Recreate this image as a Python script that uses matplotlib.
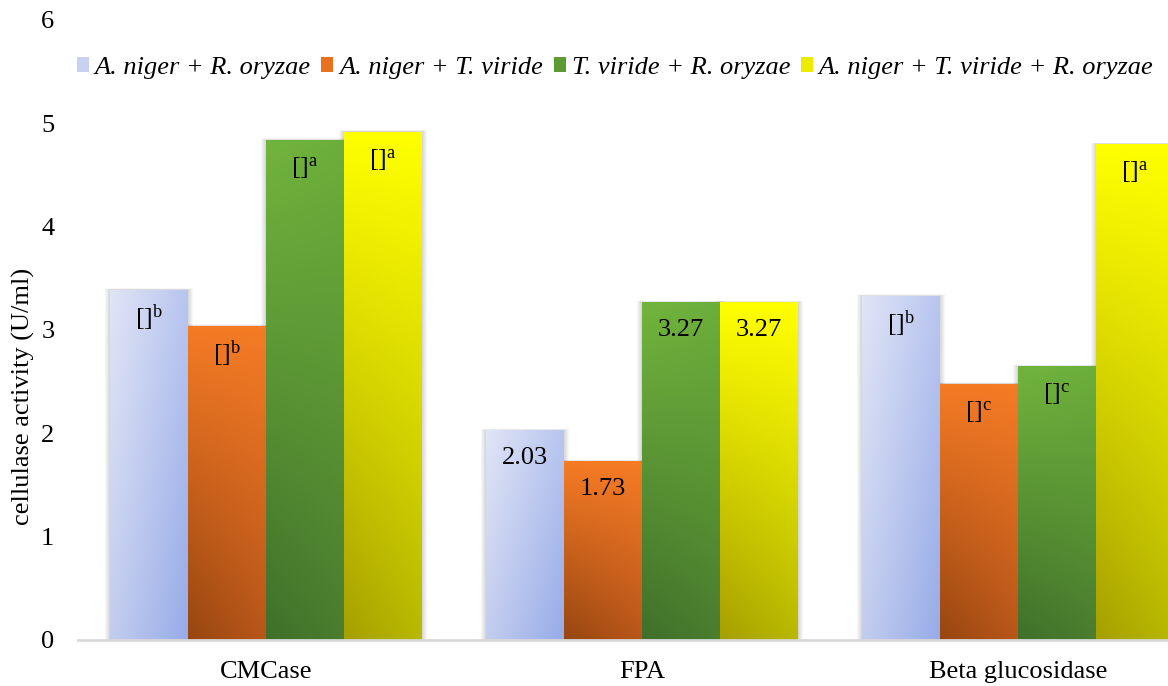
import numpy as np
import matplotlib
matplotlib.use("Agg")
import matplotlib.pyplot as plt
from matplotlib.patches import Rectangle, Patch
from matplotlib.colors import to_rgb

plt.rcParams['font.family'] = ['Liberation Serif', 'DejaVu Serif']
plt.rcParams['mathtext.fontset'] = 'custom'
plt.rcParams['mathtext.rm'] = 'Liberation Serif'
plt.rcParams['mathtext.it'] = 'Liberation Serif:italic'

# Enzyme assays and fungal consortia
categories = ["CMCase", "FPA", "Beta glucosidase"]
series_names = [
    "A. niger + R. oryzae",
    "A. niger + T. viride",
    "T. viride + R. oryzae",
    "A. niger + T. viride + R. oryzae",
]
values = [
    [3.39, 3.04, 4.84, 4.92],   # CMCase
    [2.03, 1.73, 3.27, 3.27],   # FPA
    [3.33, 2.48, 2.65, 4.80],   # Beta glucosidase
]
# Significance letters; None means the numeric value is printed instead
letters = [
    ["b", "b", "a", "a"],
    [None, None, None, None],
    ["b", "c", "c", "a"],
]
y_ticks = [0, 1, 2, 3, 4, 5, 6]

# Gradient corners per series: (top-left, top-right, bottom-left, bottom-right)
gradients = [
    ("#dfe4f6", "#b9c6ef", "#c2ccef", "#98ace8"),
    ("#f57b25", "#f57b25", "#984611", "#b8561a"),
    ("#71b43d", "#6cae3b", "#40702a", "#4a7d2e"),
    ("#ffff00", "#ffff00", "#a6a000", "#b8b800"),
]
legend_colors = ["#c8d1f1", "#e8701f", "#5c9a33", "#ecec00"]

FS = 19
W, H, DPI = 1168, 686, 100
fig = plt.figure(figsize=(W / DPI, H / DPI), dpi=DPI)
ax_left, ax_right, ax_bottom, ax_top = 78, 1206, 640, 20
ax = fig.add_axes([ax_left / W, 1 - ax_bottom / H,
                   (ax_right - ax_left) / W, (ax_bottom - ax_top) / H])

n_series = len(series_names)
bar_w = 0.2074
x = np.arange(len(categories))
px_x = len(categories) / (ax_right - ax_left)      # data units per pixel
px_y = (y_ticks[-1] - y_ticks[0]) / (ax_bottom - ax_top)


def gradient_image(corners, ny=64, nx=16):
    tl, tr, bl, br = [np.array(to_rgb(c)) for c in corners]
    v = np.linspace(0, 1, ny)[:, None, None]
    h = np.linspace(0, 1, nx)[None, :, None]
    top = tl * (1 - h) + tr * h
    bot = bl * (1 - h) + br * h
    return top * (1 - v) + bot * v


for s in range(n_series):
    offs = (s - (n_series - 1) / 2) * bar_w
    heights = [values[c][s] for c in range(len(categories))]
    bars = ax.bar(x + offs, heights, width=bar_w, color="none",
                  edgecolor="none", zorder=3)
    for c, bar in enumerate(bars):
        x0, w, hgt = bar.get_x(), bar.get_width(), bar.get_height()
        # soft drop shadow, mostly on the sides
        for k in range(1, 6):
            ax.add_patch(Rectangle((x0 - k * px_x, 0), w + 2 * k * px_x,
                                   hgt + k * px_y * 0.3,
                                   facecolor="black", alpha=0.03,
                                   edgecolor="none", zorder=2))
        img = ax.imshow(gradient_image(gradients[s]),
                        extent=(x0, x0 + w, 0, hgt), aspect="auto",
                        origin="upper", zorder=3, interpolation="bilinear")
        img.set_clip_path(bar)
        # inside-end label
        lab = letters[c][s]
        if lab is None:
            txt = f"{values[c][s]:.2f}"
        else:
            txt = "[]$^{\\mathrm{" + lab + "}}$"
        ax.text(x0 + w / 2, hgt - 28 * px_y, txt, ha="center", va="center",
                fontsize=FS, color="black", zorder=5)

ax.set_xlim(-0.5, len(categories) - 0.5)
ax.set_ylim(y_ticks[0], y_ticks[-1])

ax.set_xticks(x)
ax.set_xticklabels(categories, fontsize=FS)
ax.set_yticks(y_ticks)
ax.set_yticklabels([str(t) for t in y_ticks], fontsize=FS)
ax.tick_params(axis="both", length=0)
ax.tick_params(axis="x", pad=15)
ax.tick_params(axis="y", pad=17)
for side in ("top", "right", "left"):
    ax.spines[side].set_visible(False)
ax.spines["bottom"].set_color("#d9d9d9")
ax.spines["bottom"].set_linewidth(2)
ax.spines["bottom"].set_zorder(4)

fig.text(23 / W, 1 - 396 / H, "cellulase activity (U/ml)", rotation=90,
         ha="center", va="center", fontsize=FS)

handles = [Patch(facecolor=legend_colors[i], edgecolor="none")
           for i in range(n_series)]
fig.legend(handles, series_names, loc="center",
           bbox_to_anchor=(615 / W, 1 - 68 / H), ncol=n_series,
           frameon=False, handlelength=0.46, handleheight=0.5,
           handletextpad=0.22, columnspacing=0.4, borderpad=0,
           prop={"family": "Liberation Serif", "style": "italic", "size": FS})

fig.savefig("out.png", dpi=DPI)
